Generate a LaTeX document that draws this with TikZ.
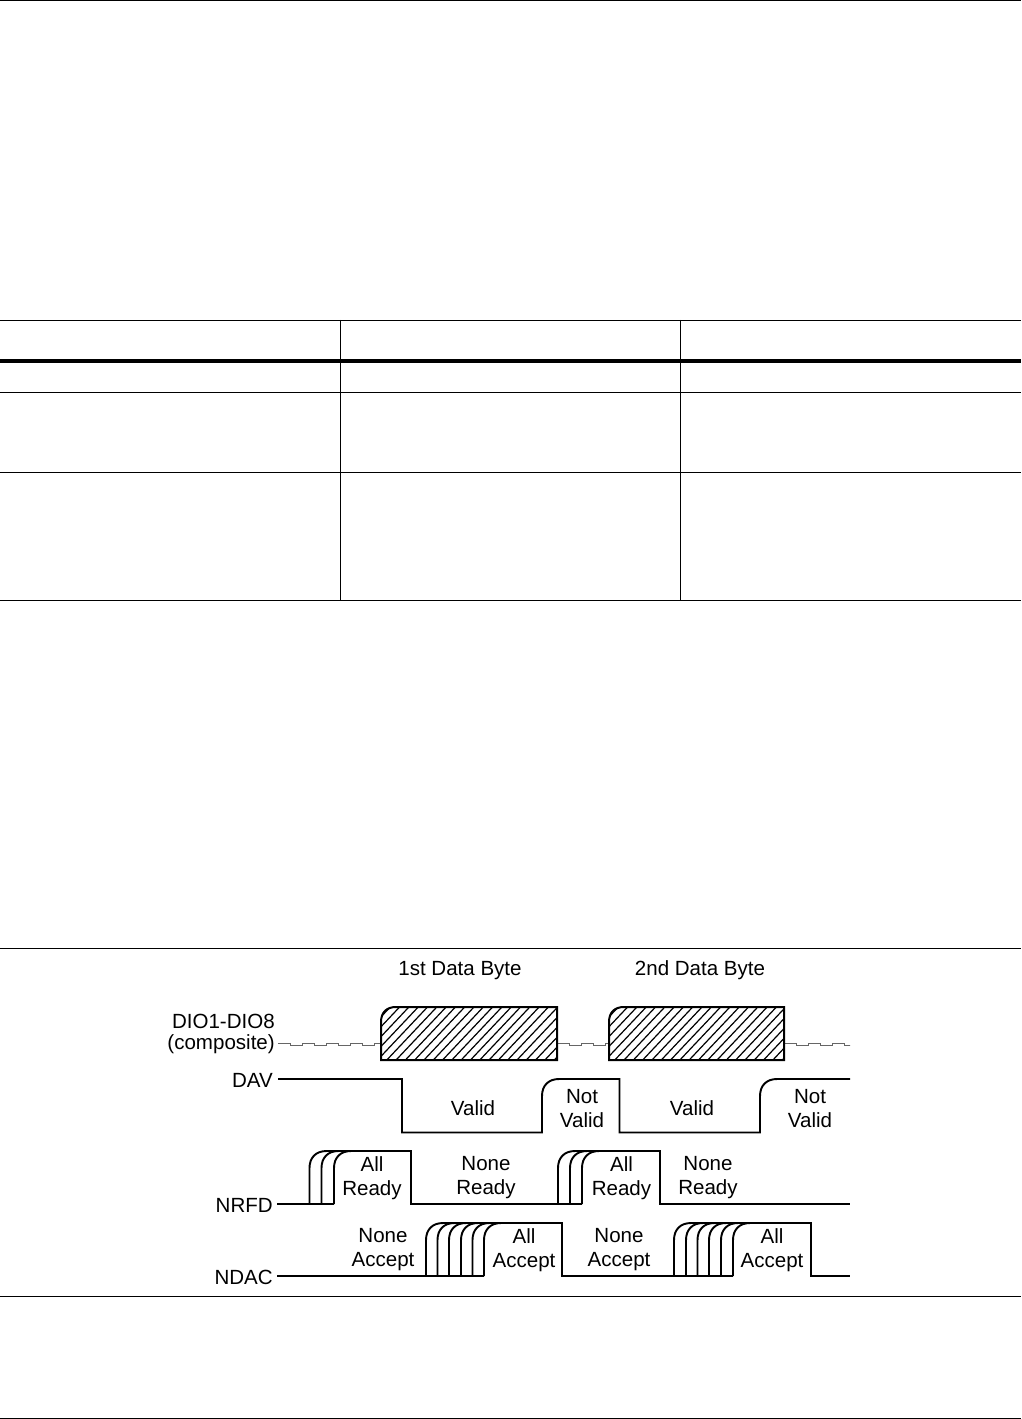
\documentclass[tikz,border=0pt]{standalone}
\usepackage{fontspec}
\setmainfont{Liberation Sans}
\tikzset{
  x=0.75pt,y=-0.75pt,
  rule/.style={line width=1pt,black},
  heavyrule/.style={line width=3pt,black},
  sig/.style={line width=1.45pt,black,line cap=butt,line join=miter},
  hatchline/.style={line width=0.9pt,black},
  outlinebox/.style={line width=1.5pt,black},
  idle/.style={line width=0.7pt,black!60},
  lab/.style={font=\fontsize{15.4}{18}\selectfont,inner sep=0pt,align=center,text=black},
  rlab/.style={font=\fontsize{15.4}{15.75}\selectfont,inner sep=0pt,align=right,text=black}
}
\newcommand{\byteframe}[2]{(#1,1060) -- (#1,1022) .. controls (#1,1012) and (#1+6,1007) .. (#1+15,1007) -- (#2,1007) -- (#2,1060) -- cycle}
\newcommand{\idlewave}[2]{%
  \draw[idle] (#1,1043) \foreach \s in {0,...,#2}{ -- ++(12,0) -- ++(0,2) -- ++(12,0) -- ++(0,-2)} -- ++(0,0);}
\begin{document}
\begin{tikzpicture}
\useasboundingbox (0,0) rectangle (1021,1419);
\fill[white] (0,0) rectangle (1021,1419);
% page rules
\draw[rule] (0,0.5) -- (1021,0.5);
\draw[rule] (0,1418.5) -- (1021,1418.5);
% table
\draw[rule] (0,320.5) -- (1021,320.5);
\draw[heavyrule] (0,361) -- (1021,361);
\draw[rule] (0,392.5) -- (1021,392.5);
\draw[rule] (0,472.5) -- (1021,472.5);
\draw[rule] (0,600.5) -- (1021,600.5);
\draw[rule] (340.5,320) -- (340.5,600);
\draw[rule] (680.5,320) -- (680.5,600);
% figure frame
\draw[rule] (0,948.5) -- (1021,948.5);
\draw[rule] (0,1296.5) -- (1021,1296.5);
% idle data
\begin{scope}
\clip (278,1030) rectangle (381,1056);
\idlewave{278}{4}
\end{scope}
\begin{scope}
\clip (557,1030) rectangle (609,1056);
\idlewave{557}{2}
\end{scope}
\begin{scope}
\clip (784,1030) rectangle (850,1056);
\idlewave{784}{3}
\end{scope}
% data bytes
\begin{scope}
\clip \byteframe{381}{557};
\foreach \k in {0,...,26}{\draw[hatchline] (331+\k*9.3,1060) -- (381+\k*9.3,1007);}
\end{scope}
\draw[outlinebox] \byteframe{381}{557};
\begin{scope}
\clip \byteframe{609}{784};
\foreach \k in {0,...,26}{\draw[hatchline] (559+\k*9.3,1060) -- (609+\k*9.3,1007);}
\end{scope}
\draw[outlinebox] \byteframe{609}{784};
% DAV
\coordinate (davstart) at (278,1079);
\coordinate (davend) at (850,1079);
\draw[sig] (davstart) -- (402,1079) -- (402,1132.5) -- (542,1132.5) -- (542,1096) .. controls (542,1085) and (549,1079) .. (559,1079) -- (619.5,1079) -- (619.5,1132.5) -- (760,1132.5) -- (760,1096) .. controls (760,1085) and (767,1079) .. (777,1079) -- (davend);
% NRFD
\coordinate (nrfdstart) at (277,1204);
\coordinate (nrfdend) at (850,1204);
\draw[sig] (nrfdstart) -- (334,1204);
\draw[sig] (326,1151) -- (411,1151) -- (411,1204) -- (582,1204);
\draw[sig] (575,1151) -- (660,1151) -- (660,1204) -- (nrfdend);
\foreach \x in {309.5,321.5,334,558,570,582}{
  \draw[sig] (\x,1204) -- (\x,1168) .. controls (\x,1158) and (\x+6,1151) .. (\x+17,1151);}
% NDAC
\coordinate (ndacstart) at (277,1276);
\coordinate (ndacend) at (850,1276);
\draw[sig] (ndacstart) -- (484,1276);
\draw[sig] (443,1223) -- (562,1223) -- (562,1276) -- (733,1276);
\draw[sig] (691,1223) -- (811,1223) -- (811,1276) -- (ndacend);
\foreach \x in {426,437.5,449,461,472.5,484,674,686,697.5,709,721,733}{
  \draw[sig] (\x,1276) -- (\x,1240) .. controls (\x,1230) and (\x+6,1223) .. (\x+17,1223);}
% labels
\node[lab] (byteone) at (460,971) {1st Data Byte};
\node[lab] (bytetwo) at (700,970) {2nd Data Byte};
\node[rlab,anchor=east] (dio) at (275,1034) {DIO1-DIO8\\(composite)};
\node[rlab,anchor=east] (dav) at (273,1080) {DAV};
\node[rlab,anchor=east] (nrfd) at (273,1205.5) {NRFD};
\node[rlab,anchor=east] (ndac) at (273,1277.5) {NDAC};
\node[lab] (v1) at (473,1108.5) {Valid};
\node[lab] (nv1) at (582,1109) {Not\\Valid};
\node[lab] (v2) at (692,1108.5) {Valid};
\node[lab] (nv2) at (810,1109) {Not\\Valid};
\node[lab] (ar1) at (372,1178) {All\\Ready};
\node[lab] (nr1) at (486,1178) {None\\Ready};
\node[lab] (ar2) at (621.5,1178) {All\\Ready};
\node[lab] (nr2) at (708,1178) {None\\Ready};
\node[lab] (na1) at (383,1250) {None\\Accept};
\node[lab] (aa1) at (524,1250) {All\\Accept};
\node[lab] (na2) at (619,1250) {None\\Accept};
\node[lab] (aa2) at (772,1250) {All\\Accept};
\end{tikzpicture}
\end{document}
